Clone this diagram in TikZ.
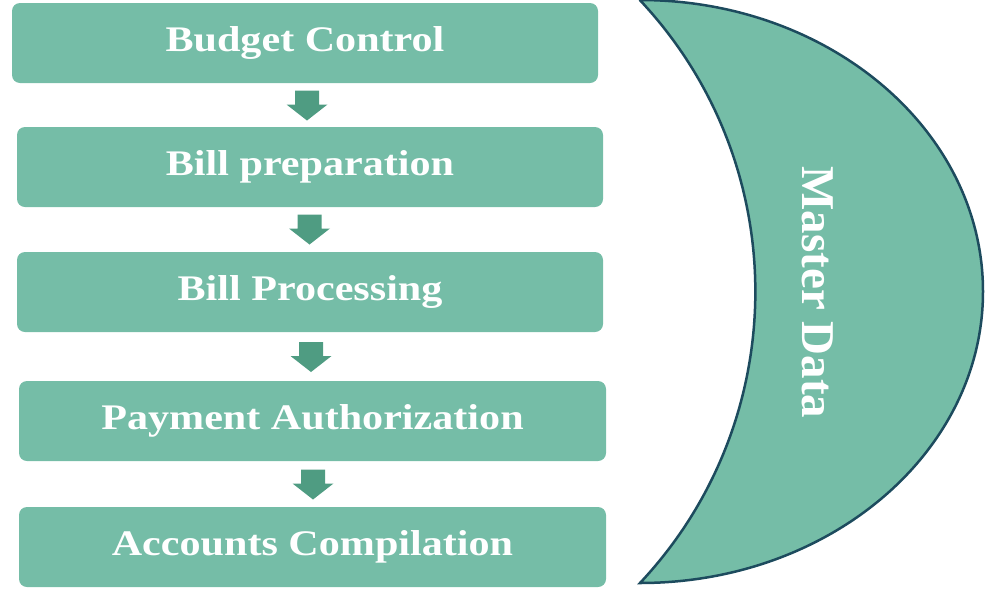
\documentclass[tikz,border=0pt]{standalone}
\usepackage{fontspec}
\setmainfont{Liberation Serif}
\definecolor{boxgreen}{HTML}{75BDA7}
\definecolor{arrowgreen}{HTML}{4F9C82}
\definecolor{edgeblue}{HTML}{1D4B5E}
\tikzset{
  stepbox/.style={fill=boxgreen, draw=none, rounded corners=8pt, minimum width=586pt, minimum height=80pt,
    text=white, font=\fontsize{36}{40}\selectfont\bfseries, text height=25pt, text depth=8pt, inner sep=0pt},
  downarr/.pic={\fill[arrowgreen] (-12,-15) -- (12,-15) -- (12,-1) -- (20.5,-1) -- (0,15) -- (-20.5,-1) -- (-12,-1) -- cycle;},
  crescent/.style={fill=boxgreen, draw=edgeblue, line width=2.5pt, line join=miter},
  mastertext/.style={text=white, font=\fontsize{47}{50}\selectfont\bfseries, rotate=-90, anchor=base, inner sep=0pt}
}
\begin{document}
\begin{tikzpicture}[x=1pt,y=-1pt]
\useasboundingbox (0,0) rectangle (997,590);
\node[stepbox] (b1) at (305,43) {\scalebox{1.17}[1]{Budget Control}};
\node[stepbox] (b2) at (310,167) {\scalebox{1.17}[1]{Bill preparation}};
\node[stepbox] (b3) at (310,292) {\scalebox{1.17}[1]{Bill Processing}};
\node[stepbox, minimum width=587pt] (b4) at (312.5,421) {\scalebox{1.17}[1]{Payment Authorization}};
\node[stepbox, minimum width=587pt] (b5) at (312.5,547) {\scalebox{1.17}[1]{Accounts Compilation}};
\pic at (307,105.5) {downarr};
\pic at (309.5,229.5) {downarr};
\pic at (311,357) {downarr};
\pic at (313,484.5) {downarr};
\draw[crescent] (640,0) arc[start angle=-90, end angle=90, x radius=343, y radius=291.5]
  arc[start angle=43.2, end angle=-43.2, radius=425.7] -- cycle;
\node[mastertext] (md) at (802,292.5) {Master Data};
\end{tikzpicture}
\end{document}
